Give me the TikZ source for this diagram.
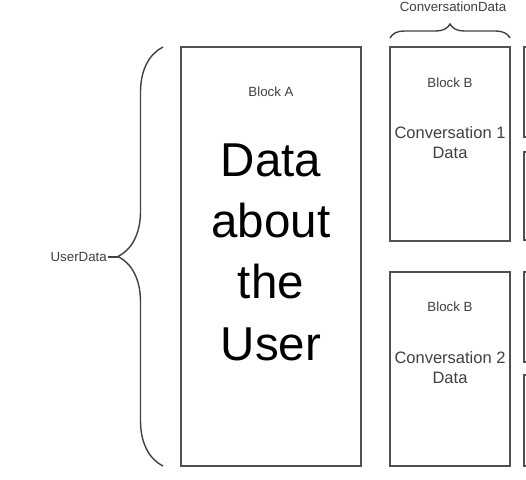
\documentclass[tikz,border=0pt]{standalone}
\usepackage{fontspec}
\setmainfont{Liberation Sans}
\usetikzlibrary{decorations.pathreplacing}
\definecolor{linegray}{HTML}{505050}
\definecolor{bracegray}{HTML}{404040}
\definecolor{labelgray}{HTML}{404040}

\begin{document}
\begin{tikzpicture}[x=1pt,y=-1pt]
\tikzset{
  box/.style={draw=linegray,line width=1.5pt,inner sep=0pt},
  small/.style={text=labelgray,font=\fontsize{13.3}{16}\selectfont,inner sep=1pt},
  bigtext/.style={align=center,font=\fontsize{47.5}{61.3}\selectfont},
  convtext/.style={align=center,text=labelgray,font=\fontsize{16.5}{20}\selectfont},
  bracket/.style={draw=bracegray,line width=1.4pt,decorate}
}
\useasboundingbox (0,0) rectangle (526,479);
\clip (0,0) rectangle (526,479);

% block A
\node[box,minimum width=180pt,minimum height=419pt] (blockA) at (271,256.5) {};
\node[small] (lblA) at (271,92) {Block A};
\node[bigtext] (userinfo) at (271,252) {Data\\about\\the\\User};

% block B, two conversations
\node[box,minimum width=120pt,minimum height=194pt] (conv1) at (450,144) {};
\node[small] (lblB1) at (450,83) {Block B};
\node[convtext] (conv1txt) at (450,143) {Conversation 1\\Data};

\node[box,minimum width=120pt,minimum height=194pt] (conv2) at (450,369) {};
\node[small] (lblB2) at (450,307) {Block B};
\node[convtext] (conv2txt) at (450,368) {Conversation 2\\Data};

% cut off at the right
\node[box,minimum width=76pt,minimum height=90pt] (next1) at (562,92) {};
\node[box,minimum width=76pt,minimum height=88pt] (next2) at (562,196) {};
\node[box,minimum width=76pt,minimum height=90pt] (next3) at (562,317) {};
\node[box,minimum width=76pt,minimum height=91pt] (next4) at (562,420.5) {};

% braces
\coordinate (ubot) at (163,466);
\coordinate (utop) at (163,47);
\coordinate (utip) at (118,257);
\draw[bracket,decoration={brace,amplitude=45pt}] (ubot) -- (utop);
\node[small,anchor=east] (userlbl) at (108,257) {UserData};
\draw[bracegray,line width=1.4pt] (utip) -- (userlbl.east);

\coordinate (cleft) at (390,38);
\coordinate (cright) at (510,38);
\draw[bracket,decoration={brace,amplitude=14pt}] (cleft) -- (cright);
\node[small] (convlbl) at (453,7) {ConversationData};
\end{tikzpicture}
\end{document}
